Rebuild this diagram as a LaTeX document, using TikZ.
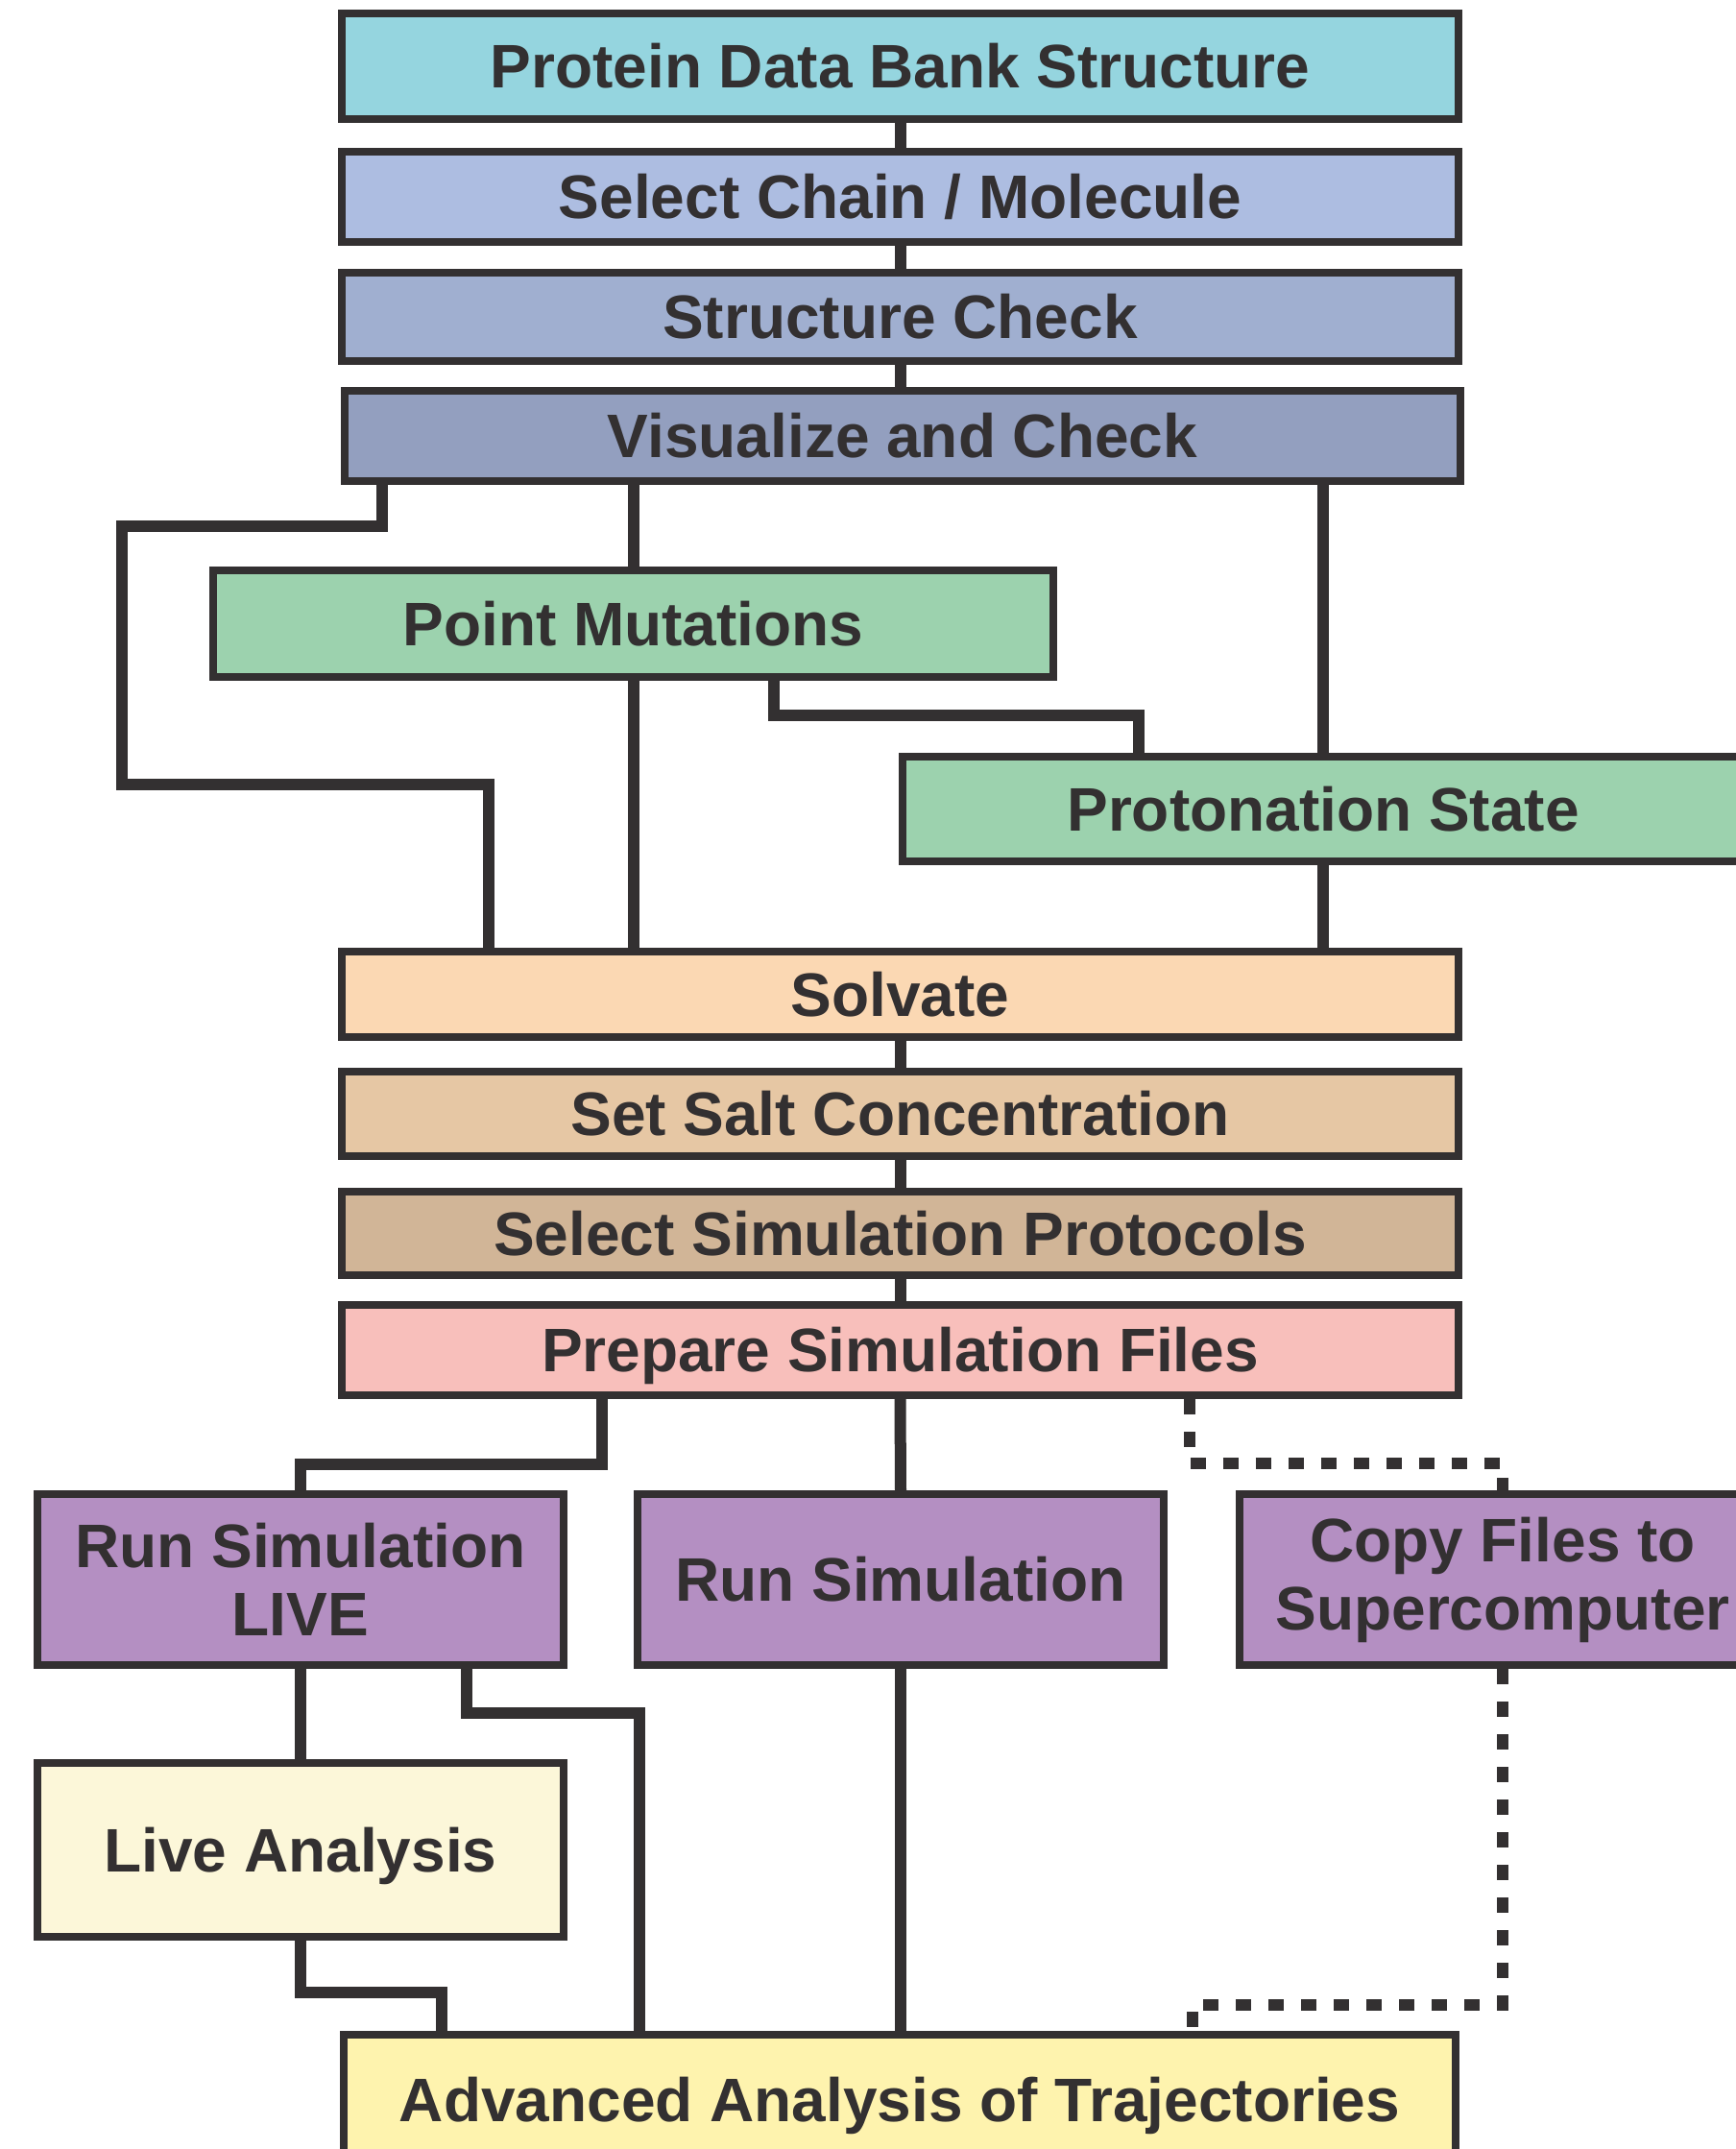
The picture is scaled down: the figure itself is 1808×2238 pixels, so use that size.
\documentclass[tikz,border=0pt]{standalone}
\usepackage{fontspec}
\setmainfont{Liberation Sans}
\usetikzlibrary{calc}
\definecolor{pdbteal}{HTML}{95D5DF}
\definecolor{chainblue}{HTML}{ADBDE1}
\definecolor{checkblue}{HTML}{A0AFD0}
\definecolor{visblue}{HTML}{939FBF}
\definecolor{mutgreen}{HTML}{9CD2AE}
\definecolor{solvpeach}{HTML}{FBD8B3}
\definecolor{salttan}{HTML}{E6C7A4}
\definecolor{prototan}{HTML}{D1B597}
\definecolor{preppink}{HTML}{F8BFBB}
\definecolor{runpurple}{HTML}{B48FC2}
\definecolor{livecream}{HTML}{FCF7D9}
\definecolor{advyellow}{HTML}{FEF3AE}
\definecolor{linegray}{HTML}{333031}

\begin{document}
\begin{tikzpicture}[x=0.01cm, y=-0.01cm,
  box/.style={draw=linegray, line width=0.8mm, align=center, inner sep=0pt,
    text=linegray, font=\fontsize{18.2}{20.2}\selectfont\bfseries},
  oneline/.style={text height=13pt, text depth=0pt},
  wide/.style={box, oneline, minimum width=11.63cm, minimum height=0.92cm},
  tall/.style={box, minimum width=5.48cm, minimum height=1.78cm},
  link/.style={draw=linegray, line width=1.2mm},
  dotlink/.style={link, dash pattern=on 1.6mm off 1.8mm}]
  \useasboundingbox (0,0) rectangle (1808,2238);
  % preparation stack
  \node[wide, fill=pdbteal, minimum height=1.10cm] (pdb) at (937.5,69) {Protein Data Bank Structure};
  \node[wide, fill=chainblue, minimum height=0.94cm] (chain) at (937.5,205) {Select Chain / Molecule};
  \node[wide, fill=checkblue] (check) at (937.5,330) {Structure Check};
  \node[wide, fill=visblue, minimum width=11.62cm, minimum height=0.94cm] (visual) at (940,454) {Visualize and Check};
  \node[box, oneline, fill=mutgreen, minimum width=8.75cm, minimum height=1.11cm] (mut) at (659.5,649.5) {Point Mutations};
  \node[box, oneline, fill=mutgreen, minimum width=8.76cm, minimum height=1.09cm] (prot) at (1378,842.5) {Protonation State};
  \node[wide, fill=solvpeach, minimum height=0.89cm] (solv) at (937.5,1035.5) {Solvate};
  \node[wide, fill=salttan, minimum height=0.88cm] (salt) at (937.5,1160) {Set Salt Concentration};
  \node[wide, fill=prototan, minimum height=0.87cm] (proto) at (937.5,1284.5) {Select Simulation Protocols};
  \node[wide, fill=preppink, minimum height=0.94cm] (prep) at (937.5,1406) {Prepare Simulation Files};
  % simulation and analysis
  \node[tall, fill=runpurple] (live) at (313,1645) {Run Simulation\\LIVE};
  \node[tall, oneline, fill=runpurple] (runsim) at (938,1645) {Run Simulation};
  \node[tall, fill=runpurple] (copy) at (1565,1645) {Copy Files to\\Supercomputer};
  \node[tall, oneline, fill=livecream, minimum height=1.81cm] (lana) at (313,1926.5) {Live Analysis};
  \node[wide, fill=advyellow, minimum width=11.58cm, minimum height=1.36cm] (adv) at (937,2187) {Advanced Analysis of Trajectories};

  \draw[link] (pdb.south) -- (chain.north);
  \draw[link] (chain.south) -- (check.north);
  \draw[link] (check.south) -- (check.south |- visual.north);
  \draw[link] ($(visual.south west)+(43,0)$) -- ++(0,43) -| (127,817) -| ($(solv.north west)+(157,0)$);
  \draw[link] (mut.north |- visual.south) -- (mut.north);
  \draw[link] (prot.north |- visual.south) -- (prot.north);
  \draw[link] (mut.south) -- (mut.south |- solv.north);
  \draw[link] ($(mut.south west)+(588,0)$) -- ++(0,36) -| ($(prot.north west)+(250,0)$);
  \draw[link] (prot.south) -- (prot.south |- solv.north);
  \draw[link] (solv.south) -- (salt.north);
  \draw[link] (salt.south) -- (proto.north);
  \draw[link] (proto.south) -- (prep.north);
  \draw[link] ($(prep.south west)+(275,0)$) -- ++(0,68) -| (live.north);
  \draw[link] (prep.south) -- (runsim.north);
  \draw[dotlink] ($(prep.south west)+(887,0)$) -- ++(0,67) -| (copy.north);
  \draw[link] (live.south) -- (lana.north);
  \draw[link] ($(live.south east)+(-105,0)$) -- ++(0,46) -| ($(adv.north west)+(312,0)$);
  \draw[link] (lana.south) -- ++(0,54) -| ($(adv.north west)+(106,0)$);
  \draw[link] (runsim.south) -- (runsim.south |- adv.north);
  \draw[dotlink] (copy.south) -- ++(0,350) -| ($(adv.north west)+(888,0)$);
\end{tikzpicture}
\end{document}
